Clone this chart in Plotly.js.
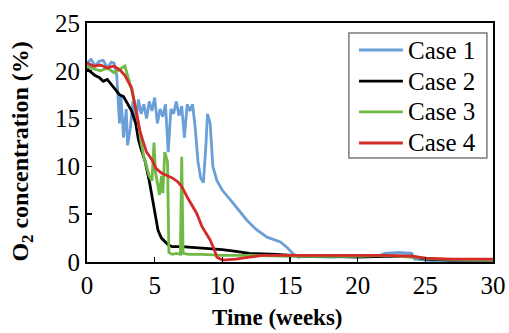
<!DOCTYPE html>
<html>
<head>
<meta charset="utf-8">
<script src="https://cdn.plot.ly/plotly-3.0.1.min.js"></script>
<style>html,body{margin:0;padding:0;background:#fff;}#chart{width:509px;height:333px;}</style>
</head>
<body>
<div id="chart"></div>
<script>
// Case 1 (blue)
var case1Weeks = [0,0.3,0.6,0.9,1.2,1.5,1.8,2.0,2.2,2.4,2.5,2.7,2.9,3.0,3.2,3.4,3.6,3.8,4.0,4.2,4.4,4.6,4.8,5.0,5.2,5.4,5.6,5.8,6.0,6.2,6.4,6.6,6.8,7.0,7.2,7.4,7.6,7.8,8.0,8.2,8.4,8.6,8.8,8.9,9.1,9.3,9.6,10.0,10.6,11.2,11.8,12.5,13.3,14.3,14.8,15.2,15.6,16,18,20,21.5,22,23,24,24.2,26,28,30];
var case1O2 = [20.8,21.2,20.5,21.0,21.1,20.3,20.9,20.8,19.5,14.5,17.5,13.0,16.0,12.2,14.0,16.8,14.5,17.0,15.5,16.5,15.0,16.8,15.8,17.2,14.5,16.0,15.2,16.5,11.5,16.0,15.5,16.8,15.3,16.3,13.0,16.5,15.8,16.5,14.0,10.5,8.8,8.3,12.5,15.5,14.5,10.0,8.5,7.5,6.5,5.5,4.4,3.4,2.6,2.1,1.5,0.9,0.5,0.6,0.5,0.6,0.6,0.9,1.0,0.9,0.3,0.1,0.2,0.2];
// Case 2 (black)
var case2Weeks = [0,0.3,0.6,0.9,1.2,1.5,1.8,2.1,2.4,2.7,3.0,3.3,3.6,3.8,4.0,4.3,4.6,4.8,5.0,5.25,5.5,5.75,6.0,6.3,7,8,9,10,11,12,14,16,18,20,22,24,25,27,30];
var case2O2 = [20.2,19.8,19.5,19.3,18.9,19.1,18.6,18.0,17.5,17.3,16.5,15.8,14.5,12.8,11.8,10.5,8.5,6.8,5.0,3.3,2.5,2.1,1.8,1.6,1.6,1.5,1.4,1.3,1.1,0.9,0.8,0.6,0.6,0.5,0.6,0.6,0.3,0.2,0.2];
// Case 3 (green)
var case3Weeks = [0,0.5,1.0,1.5,2.0,2.5,2.8,3.0,3.3,3.6,3.8,4.0,4.2,4.4,4.6,4.8,4.95,5.05,5.2,5.35,5.5,5.6,5.75,5.85,5.95,6.05,6.3,6.6,6.9,7.0,7.1,7.5,8.5,10,12,15,18,20,22,24,26,30];
var case3O2 = [20.5,20.2,20.0,20.3,19.8,20.2,20.5,19.5,18.0,16.0,14.5,12.5,11.0,10.0,9.0,8.5,12.5,9.5,8.0,7.0,9.0,7.2,11.5,11.0,10.5,1.0,0.8,0.9,0.8,11.0,0.9,0.8,0.8,0.7,0.7,0.6,0.6,0.6,0.7,0.5,0.3,0.2];
// Case 4 (red)
var case4Weeks = [0,0.5,1.0,1.5,2.0,2.5,2.8,3.0,3.3,3.6,3.9,4.1,4.4,4.8,5.1,5.5,6.0,6.3,6.7,7.0,7.4,7.8,8.1,8.5,8.8,9.1,9.4,9.6,10.0,11,12,13,15,18,20,22,24,25,27,30];
var case4O2 = [20.8,20.5,20.6,20.3,20.5,20.0,19.5,19.0,18.2,16.0,13.8,12.8,11.5,10.7,9.8,9.3,9.0,8.8,8.4,7.9,6.8,5.8,5.1,3.7,3.0,2.3,1.3,0.5,0.2,0.3,0.5,0.7,0.7,0.7,0.7,0.7,0.6,0.4,0.3,0.3];

var seriesNames = ["Case 1","Case 2","Case 3","Case 4"];
var seriesColors = ["#6a9fd8","#000000","#6fba45","#d42a2a"];
var xTitle = "<b>Time (weeks)</b>";
var yTitle = "<b>O<sub>2</sub> concentration (%)</b>";
var xs = [case1Weeks, case2Weeks, case3Weeks, case4Weeks];
var ys = [case1O2, case2O2, case3O2, case4O2];

var serif = "Liberation Serif";
var traces = [];
for (var i = 0; i < 4; i++) {
  traces.push({x: xs[i], y: ys[i], type: "scatter", mode: "lines", name: seriesNames[i],
    line: {color: seriesColors[i], width: 2.8}, showlegend: false});
}

// hand-built legend (box, line samples, labels) in paper coordinates
var shapes = [{type: "rect", xref: "paper", yref: "paper", x0: 0.645, x1: 0.985, y0: 0.435, y1: 0.958,
  line: {color: "#7a7a7a", width: 1.5}, fillcolor: "rgba(255,255,255,1)", layer: "above"}];
var annotations = [];
var rowY = [0.887, 0.757, 0.628, 0.498];
for (var j = 0; j < 4; j++) {
  shapes.push({type: "line", xref: "paper", yref: "paper", x0: 0.670, x1: 0.778, y0: rowY[j], y1: rowY[j],
    line: {color: seriesColors[j], width: 2.8}, layer: "above"});
  annotations.push({xref: "paper", yref: "paper", x: 0.786, y: rowY[j], xanchor: "left", yanchor: "middle",
    showarrow: false, text: seriesNames[j], font: {family: serif, size: 25, color: "#000"}});
}
annotations.push({xref: "paper", yref: "paper", x: 0.468, y: -0.234, xanchor: "center", yanchor: "middle",
  showarrow: false, text: xTitle, font: {family: serif, size: 23, color: "#000"}});
annotations.push({xref: "paper", yref: "paper", x: -0.160, y: 0.462, xanchor: "center", yanchor: "middle",
  textangle: -90, showarrow: false, text: yTitle, font: {family: serif, size: 24, color: "#000"}});

var layout = {
  width: 509, height: 333,
  margin: {l: 87, r: 16, t: 23, b: 71},
  paper_bgcolor: "#fff", plot_bgcolor: "#fff",
  font: {family: serif, size: 24, color: "#000"},
  showlegend: false,
  shapes: shapes,
  annotations: annotations,
  xaxis: {range: [0, 30], dtick: 5, tick0: 0, ticks: "inside", ticklen: 5, tickwidth: 1.5, tickcolor: "#000",
    showline: true, linecolor: "#000", linewidth: 2, mirror: true, showgrid: false, zeroline: false,
    tickfont: {family: serif, size: 25, color: "#000"}},
  yaxis: {range: [0, 25], dtick: 5, tick0: 0, ticks: "inside", ticklen: 5, tickwidth: 1.5, tickcolor: "#000",
    showline: true, linecolor: "#000", linewidth: 2, mirror: true, showgrid: false, zeroline: false,
    tickfont: {family: serif, size: 25, color: "#000"}}
};
Plotly.newPlot("chart", traces, layout, {displayModeBar: false, staticPlot: true});
</script>
</body>
</html>
